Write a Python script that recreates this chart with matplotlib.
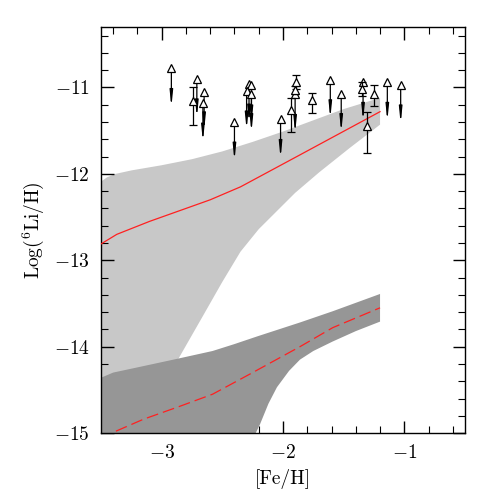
import numpy as np
import matplotlib
matplotlib.use("Agg")
import matplotlib.pyplot as plt

plt.rcParams['font.family'] = 'cmr10'
plt.rcParams['mathtext.fontset'] = 'cm'
plt.rcParams['axes.formatter.use_mathtext'] = True

# model bands (light: upper model, dark: lower model)
light_x_up = [-3.50, -3.45, -3.38, -3.25, -3.00, -2.75, -2.50, -2.25, -2.00, -1.75, -1.50, -1.20]
light_y_up = [-12.09, -12.04, -12.00, -11.96, -11.90, -11.83, -11.74, -11.63, -11.51, -11.38, -11.25, -11.12]
light_x_lo = [-3.50, -3.10, -2.87, -2.65, -2.50, -2.35, -2.20, -2.05, -1.90, -1.70, -1.45, -1.20]
light_y_lo = [-15.80, -14.75, -14.16, -13.62, -13.25, -12.90, -12.64, -12.43, -12.22, -11.98, -11.70, -11.43]

dark_x_up = [-3.50, -3.40, -3.20, -2.87, -2.58, -2.40, -2.21, -1.86, -1.59, -1.20]
dark_y_up = [-14.36, -14.30, -14.24, -14.14, -14.05, -13.97, -13.88, -13.72, -13.59, -13.39]
dark_x_lo = [-3.50, -2.27, -2.19, -2.12, -2.05, -1.95, -1.86, -1.75, -1.59, -1.40, -1.20]
dark_y_lo = [-16.50, -15.13, -14.90, -14.66, -14.47, -14.28, -14.15, -14.05, -13.94, -13.82, -13.71]

# model mean lines
red_x = [-3.51, -3.37, -3.10, -2.60, -2.35, -1.86, -1.20]
red_y = [-12.82, -12.70, -12.55, -12.30, -12.15, -11.78, -11.28]
dash_x = [-3.50, -3.38, -3.15, -2.85, -2.58, -2.25, -1.86, -1.59, -1.20]
dash_y = [-15.07, -14.98, -14.84, -14.69, -14.55, -14.30, -14.00, -13.78, -13.55]

# upper limits
lim_feh = [-2.92, -2.71, -2.65, -2.66, -2.40, -2.28, -2.26, -2.30, -2.26,
           -2.02, -1.90, -1.61, -1.52, -1.34, -1.14, -1.03]
lim_li = [-10.78, -10.90, -11.05, -11.18, -11.40, -10.96, -10.97, -11.04, -11.07,
          -11.37, -11.08, -10.91, -11.07, -10.94, -10.94, -10.97]
arrow_len = 0.45

# detections with error bars
det_feh = [-2.74, -1.89, -1.90, -1.93, -1.76, -1.35, -1.31, -1.25]
det_li = [-11.16, -10.94, -11.03, -11.26, -11.15, -11.02, -11.45, -11.07]
det_err_lo = [0.28, 0.08, 0.05, 0.25, 0.15, 0.08, 0.31, 0.14]
det_err_hi = [0.16, 0.09, 0.05, 0.14, 0.09, 0.08, 0.17, 0.10]

fig = plt.figure(figsize=(4.91, 4.91), dpi=100)
ax = fig.add_axes([0.2057, 0.118, 0.7413, 0.827])

lx = np.concatenate([light_x_up, light_x_lo[::-1]])
ly = np.concatenate([light_y_up, light_y_lo[::-1]])
ax.fill(lx, ly, color='#c8c8c8', lw=0, zorder=1)
dx = np.concatenate([dark_x_up, dark_x_lo[::-1]])
dy = np.concatenate([dark_y_up, dark_y_lo[::-1]])
ax.fill(dx, dy, color='#969696', lw=0, zorder=2)

ax.plot(red_x, red_y, color='#ff2020', lw=0.9, zorder=3)
ax.plot(dash_x, dash_y, color='#ff2020', lw=0.9, dashes=(9.5, 4), zorder=3)

for x, y in zip(lim_feh, lim_li):
    ax.annotate('', xy=(x, y - arrow_len), xytext=(x, y),
                arrowprops=dict(arrowstyle='-|>,head_length=0.9,head_width=0.09',
                                color='k', lw=0.9, shrinkA=0, shrinkB=0,
                                mutation_scale=10), zorder=4)
ax.plot(lim_feh, lim_li, ls='none', marker='^', ms=5.8, mfc='white',
        mec='k', mew=0.9, zorder=5)

ax.errorbar(det_feh, det_li, yerr=[det_err_lo, det_err_hi], fmt='^', ms=5.8,
            mfc='white', mec='k', mew=0.9, ecolor='k', elinewidth=0.9,
            capsize=3, capthick=0.9, zorder=5)

ax.set_xlim(-3.5, -0.5)
ax.set_ylim(-15, -10.3)
ax.set_xticks([-3, -2, -1])
ax.set_yticks([-15, -14, -13, -12, -11])
ax.xaxis.set_minor_locator(matplotlib.ticker.MultipleLocator(0.2))
ax.yaxis.set_minor_locator(matplotlib.ticker.MultipleLocator(0.2))
ax.tick_params(which='both', direction='in', top=True, right=True, labelsize=14)
ax.tick_params(which='major', length=9, width=1.0, pad=8)
ax.tick_params(which='minor', length=5, width=0.8)
for sp in ax.spines.values():
    sp.set_linewidth(1.0)

ax.set_xlabel('[Fe/H]', fontsize=14, labelpad=5)
ax.set_ylabel(r'Log($^6$Li/H)', fontsize=14, labelpad=6)

fig.savefig('out.png', dpi=100)
